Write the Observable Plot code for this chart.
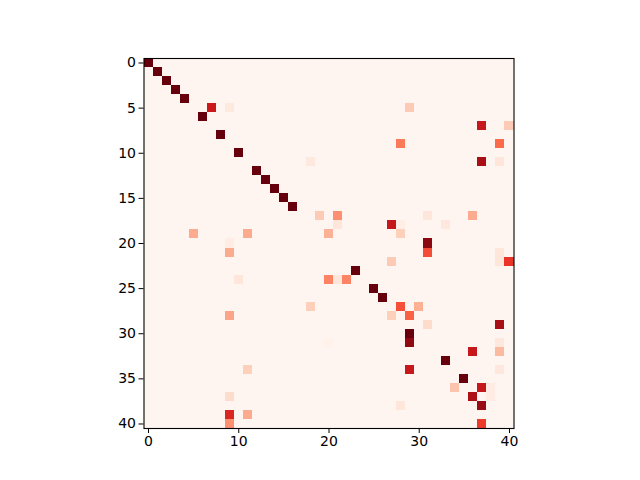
<!DOCTYPE html>
<html><head><meta charset="utf-8">
<script src="https://cdn.jsdelivr.net/npm/d3@7"></script>
<script src="https://cdn.jsdelivr.net/npm/@observablehq/plot@0.6"></script>
<style>body{margin:0;background:#fff;}</style>
</head><body><div id="chart"></div>
<script>
const matrixSize = 41;
const cellRows = [0,1,2,3,4,5,5,5,6,7,7,8,9,9,10,11,11,11,12,13,14,15,16,
  17,17,17,17,18,18,18,18,19,19,19,19,20,20,21,21,21,22,22,22,23,24,24,24,24,
  25,26,27,27,27,28,28,28,29,29,30,31,31,31,32,32,33,34,34,34,35,36,36,36,37,37,37,38,38,39,39,40,40];
const cellCols = [0,1,2,3,4,7,9,29,6,37,40,8,28,39,10,18,37,39,12,13,14,15,16,
  19,21,31,36,21,27,28,33,5,11,20,28,9,31,9,31,39,27,39,40,23,10,20,21,22,
  25,26,18,28,30,9,27,29,31,39,29,20,29,39,36,39,33,11,29,39,35,34,37,38,9,36,38,28,37,9,11,9,37];
const cellValues = [1,1,1,1,1,0.75,0.07,0.2,1,0.77,0.2,1,0.45,0.5,1,0.07,0.87,0.09,1,1,1,1,1,
  0.2,0.38,0.09,0.3,0.09,0.77,0.04,0.08,0.3,0.3,0.28,0.18,0.05,0.93,0.3,0.58,0.09,0.2,0.09,0.65,1,0.09,0.42,0.09,0.42,
  1,1,0.18,0.57,0.28,0.32,0.18,0.52,0.14,0.87,1,0.02,0.92,0.08,0.77,0.25,1,0.18,0.77,0.08,1,0.22,0.77,0.06,0.14,0.85,0.06,0.09,0.9,0.7,0.3,0.38,0.63];
const xTicks = [0,10,20,30,40];
const yTicks = [0,5,10,15,20,25,30,35,40];
const redsStops = ["#fff5f0","#fee0d2","#fcbba1","#fc9272","#fb6a4a","#ef3b2c","#cb181d","#a50f15","#67000d"];

const grid = [];
for (let r = 0; r < matrixSize; r++) for (let c = 0; c < matrixSize; c++) grid.push({row: r, col: c, value: 0});
cellRows.forEach((r, i) => { grid[r * matrixSize + cellCols[i]].value = cellValues[i]; });

const chart = Plot.plot({
  width: 640, height: 480,
  marginLeft: 143.5, marginRight: 126.5, marginTop: 58, marginBottom: 52,
  style: {fontFamily: "DejaVu Sans", fontSize: "14px", color: "black", background: "white"},
  x: {domain: [-0.5, 40.5]},
  y: {domain: [40.5, -0.5]},
  color: {type: "linear", domain: redsStops.map((_, i) => i / (redsStops.length - 1)), range: redsStops, interpolate: "rgb"},
  marks: [
    Plot.rect(grid, {x1: d => d.col - 0.5, x2: d => d.col + 0.5, y1: d => d.row - 0.5, y2: d => d.row + 0.5, fill: "value", shapeRendering: "crispEdges"}),
    Plot.frame({stroke: "black", strokeWidth: 1.1}),
    Plot.axisX({ticks: xTicks, tickSize: 5, tickPadding: 3, label: null, fontSize: 14}),
    Plot.axisY({ticks: yTicks, tickSize: 5, tickPadding: 3, label: null, fontSize: 14})
  ]
});
document.getElementById("chart").appendChild(chart);
</script></body></html>
